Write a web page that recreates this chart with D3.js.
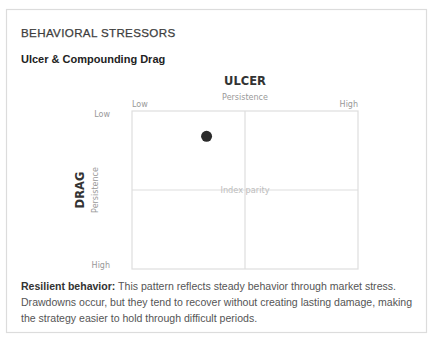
<!DOCTYPE html>
<html>
<head>
<meta charset="utf-8">
<script src="https://cdn.jsdelivr.net/npm/d3@7"></script>
<style>
  html, body { margin: 0; padding: 0; background: #fff; }
  svg { display: block; }
</style>
</head>
<body>
<svg id="chart" width="434" height="341"></svg>
<script>
// Strategy position relative to the index (1 = index parity)
const strategies = ["Strategy"];
const ulcerPersistence = [0.66];
const dragPersistence = [0.32];
const axisDomain = [0, 2];
const parity = 1;
const xTickLabels = ["Low", "High"];
const yTickLabels = ["Low", "High"];

const svg = d3.select("#chart");
const sans = "Helvetica, Arial, 'Liberation Sans', sans-serif";
const dv = "'DejaVu Sans', Verdana, sans-serif";

// card
svg.append("rect")
  .attr("x", 6.5).attr("y", 9.5).attr("width", 420).attr("height", 323)
  .attr("fill", "#fff").attr("stroke", "#dcdcdc").attr("stroke-width", 1.2);

svg.append("text")
  .attr("x", 21).attr("y", 37)
  .attr("font-family", sans).attr("font-size", 11.6)
  .attr("letter-spacing", 0.35).attr("fill", "#3d3d3d")
  .attr("stroke", "#3d3d3d").attr("stroke-width", 0.25)
  .text("BEHAVIORAL STRESSORS");

svg.append("text")
  .attr("x", 21).attr("y", 63)
  .attr("font-family", sans).attr("font-size", 11).attr("font-weight", "bold")
  .attr("fill", "#222")
  .text("Ulcer & Compounding Drag");

const plot = { left: 132, top: 111, right: 358, bottom: 269 };

const x = d3.scaleLinear().domain(axisDomain).range([plot.left, plot.right]);
const y = d3.scaleLinear().domain(axisDomain).range([plot.top, plot.bottom]);

const g = svg.append("g");

// quadrant grid
g.append("rect")
  .attr("x", plot.left).attr("y", plot.top)
  .attr("width", plot.right - plot.left).attr("height", plot.bottom - plot.top)
  .attr("fill", "none").attr("stroke", "#dedede").attr("stroke-width", 1.2);

g.append("line")
  .attr("x1", x(parity)).attr("x2", x(parity))
  .attr("y1", plot.top).attr("y2", plot.bottom)
  .attr("stroke", "#dedede").attr("stroke-width", 1.2);

g.append("line")
  .attr("x1", plot.left).attr("x2", plot.right)
  .attr("y1", y(parity)).attr("y2", y(parity))
  .attr("stroke", "#dedede").attr("stroke-width", 1.2);

g.append("text")
  .attr("x", x(parity)).attr("y", y(parity) + 3)
  .attr("text-anchor", "middle")
  .attr("font-family", dv).attr("font-size", 8.2)
  .attr("fill", "#bdbdbd")
  .text("Index parity");

// top axis titles
svg.append("text")
  .attr("x", x(parity)).attr("y", 85)
  .attr("text-anchor", "middle")
  .attr("font-family", dv).attr("font-size", 11.5).attr("font-weight", "bold")
  .attr("fill", "#333")
  .text("ULCER");

svg.append("text")
  .attr("x", x(parity)).attr("y", 100)
  .attr("text-anchor", "middle")
  .attr("font-family", dv).attr("font-size", 8)
  .attr("fill", "#999")
  .text("Persistence");

// x end labels
svg.selectAll("text.xt").data(xTickLabels).join("text")
  .attr("class", "xt")
  .attr("x", (d, i) => i === 0 ? x(axisDomain[0]) : x(axisDomain[1]))
  .attr("y", 107)
  .attr("text-anchor", (d, i) => i === 0 ? "start" : "end")
  .attr("font-family", dv).attr("font-size", 8)
  .attr("fill", "#999")
  .text(d => d);

// y end labels
svg.selectAll("text.yt").data(yTickLabels).join("text")
  .attr("class", "yt")
  .attr("x", 110)
  .attr("y", (d, i) => i === 0 ? y(axisDomain[0]) + 6 : y(axisDomain[1]) - 1)
  .attr("text-anchor", "end")
  .attr("font-family", dv).attr("font-size", 8)
  .attr("fill", "#999")
  .text(d => d);

// left axis titles
svg.append("text")
  .attr("transform", `translate(${84},${y(parity)}) rotate(-90)`)
  .attr("text-anchor", "middle")
  .attr("font-family", dv).attr("font-size", 11.5).attr("font-weight", "bold")
  .attr("fill", "#333")
  .text("DRAG");

svg.append("text")
  .attr("transform", `translate(${98},${y(parity)}) rotate(-90)`)
  .attr("text-anchor", "middle")
  .attr("font-family", dv).attr("font-size", 8)
  .attr("fill", "#999")
  .text("Persistence");

// strategy point
g.selectAll("circle.pt").data(strategies).join("circle")
  .attr("class", "pt")
  .attr("cx", (d, i) => x(ulcerPersistence[i]))
  .attr("cy", (d, i) => y(dragPersistence[i]))
  .attr("r", 5.5)
  .attr("fill", "#2b2b2b");

// description
const desc = svg.append("text")
  .attr("font-family", sans).attr("font-size", 10.55).attr("fill", "#555");
const line1 = desc.append("tspan").attr("x", 21).attr("y", 290);
line1.append("tspan").attr("font-weight", "bold").attr("fill", "#333").text("Resilient behavior:");
line1.append("tspan").text(" This pattern reflects steady behavior through market stress.");
desc.append("tspan").attr("x", 21).attr("y", 306)
  .text("Drawdowns occur, but they tend to recover without creating lasting damage, making");
desc.append("tspan").attr("x", 21).attr("y", 322)
  .text("the strategy easier to hold through difficult periods.");
</script>
</body>
</html>
